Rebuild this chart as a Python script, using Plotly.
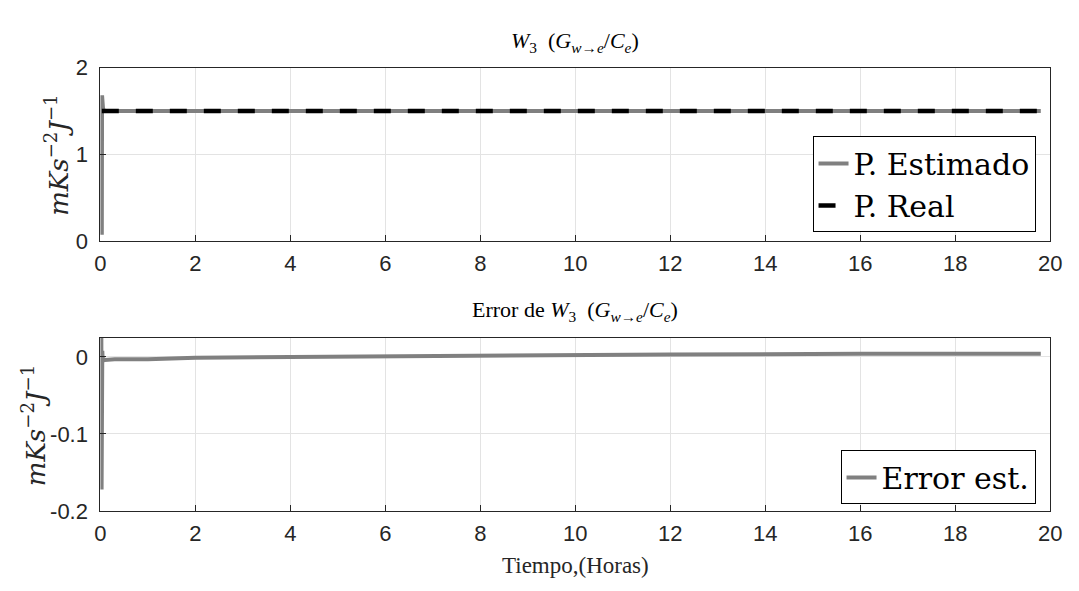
import plotly.graph_objects as go

# ---- data ----
t_est = [0.03, 0.035, 0.04, 0.045, 0.05, 0.055, 0.06, 0.08, 0.12, 0.2, 1, 5, 10, 15, 19.8]
w3_est = [0.07, 1.68, 0.08, 1.62, 1.45, 1.53, 1.49, 1.505, 1.5, 1.5, 1.5, 1.5, 1.5, 1.5, 1.5]
t_real = [0.03, 19.8]
w3_real = [1.5, 1.5]

t_err = [0.02, 0.025, 0.03, 0.035, 0.04, 0.05, 0.07, 0.1, 0.3, 1, 2, 4, 8, 12, 16, 19.8]
err = [0.025, -0.172, 0.022, -0.02, 0.008, -0.006, -0.003, -0.004, -0.003, -0.003, -0.001, 0.0, 0.002, 0.003, 0.004, 0.004]

x_ticks = [0, 2, 4, 6, 8, 10, 12, 14, 16, 18, 20]
y1_ticks = [0, 1, 2]
y2_ticks = [-0.2, -0.1, 0]
y2_ticklabels = ["-0.2", "-0.1", "0"]

GRAY = "#808080"
SERIF = "Liberation Serif, DejaVu Serif, serif"
SERIF_W = "DejaVu Serif, serif"
SANS = "Liberation Sans, Arial, sans-serif"

W, H = 1079, 591


def px(xr):
    return xr / W


def py(yr):
    return 1 - yr / H


fig = go.Figure()
fig.add_trace(go.Scatter(x=t_est, y=w3_est, mode="lines", name="P. Estimado",
                         line=dict(color=GRAY, width=4), xaxis="x", yaxis="y", legend="legend"))
fig.add_trace(go.Scatter(x=t_real, y=w3_real, mode="lines", name="P. Real",
                         line=dict(color="black", width=4.5, dash="17px,17px"),
                         xaxis="x", yaxis="y", legend="legend"))
fig.add_trace(go.Scatter(x=t_err, y=err, mode="lines", name="Error est.",
                         line=dict(color=GRAY, width=4), xaxis="x2", yaxis="y2", legend="legend2"))

x0, x1 = px(96), px(1062)
axis_common = dict(showline=True, linecolor="#262626", linewidth=1, mirror=True,
                   ticks="inside", ticklen=6, tickcolor="#262626",
                   showgrid=True, gridcolor="#e3e3e3", gridwidth=1, zeroline=False,
                   tickfont=dict(family=SANS, size=22, color="#262626"))

fig.update_layout(
    autosize=True,
    margin=dict(l=0, r=0, t=0, b=0),
    paper_bgcolor="white", plot_bgcolor="white",
    xaxis=dict(domain=[x0, x1], range=[0, 20], tickvals=x_ticks, anchor="y",
               ticklabelstandoff=3, **axis_common),
    yaxis=dict(domain=[py(239), py(58)], range=[0, 2], tickvals=y1_ticks, anchor="x",
               ticklabelstandoff=7, **axis_common),
    xaxis2=dict(domain=[x0, x1], range=[0, 20], tickvals=x_ticks, anchor="y2",
                ticklabelstandoff=3, **axis_common),
    yaxis2=dict(domain=[py(521), py(340)], range=[-0.2, 0.025], tickvals=y2_ticks,
                ticktext=y2_ticklabels, anchor="x2", ticklabelstandoff=7, **axis_common),
    legend=dict(x=px(1047), y=py(180), xanchor="right", yanchor="middle",
                bgcolor="white", bordercolor="black", borderwidth=1,
                font=dict(family=SERIF_W, size=30, color="black"), itemwidth=30,
                tracegroupgap=0),
    legend2=dict(x=px(1047), y=py(486), xanchor="right", yanchor="middle",
                 bgcolor="white", bordercolor="black", borderwidth=1,
                 font=dict(family=SERIF_W, size=30, color="black"), itemwidth=30),
    showlegend=True,
)

title_top = "<i>W</i><sub>3</sub>  (<i>G</i><sub><i>w→e</i></sub>/<i>C</i><sub><i>e</i></sub>)"
title_bot = "Error de <i>W</i><sub>3</sub>  (<i>G</i><sub><i>w→e</i></sub>/<i>C</i><sub><i>e</i></sub>)"
ylab = "<i>mKs</i><sup>−2</sup><i>J</i><sup>−1</sup>"

ann = [
    dict(text=title_top, x=(x0 + x1) / 2, y=py(31), xref="paper", yref="paper",
         yanchor="middle", showarrow=False, font=dict(family=SERIF, size=22, color="black")),
    dict(text=title_bot, x=(x0 + x1) / 2, y=py(312), xref="paper", yref="paper",
         yanchor="middle", showarrow=False, font=dict(family=SERIF, size=22, color="black")),
    dict(text="Tiempo,(Horas)", x=(x0 + x1) / 2, y=py(578), xref="paper", yref="paper",
         yanchor="middle", showarrow=False, font=dict(family=SERIF, size=23, color="#262626")),
    dict(text=ylab, x=px(52), y=py(150), xref="paper", yref="paper", textangle=-90,
         xanchor="center", yanchor="middle",
         showarrow=False, font=dict(family=SERIF_W, size=26, color="#262626")),
    dict(text=ylab, x=px(28), y=py(432), xref="paper", yref="paper", textangle=-90,
         xanchor="center", yanchor="middle",
         showarrow=False, font=dict(family=SERIF_W, size=26, color="#262626")),
]
fig.update_layout(annotations=ann)

fig.write_html("out.html",
               default_width="100vw",
               default_height="100vh; position:fixed; top:0; left:0; margin:0",
               config={"responsive": True})
